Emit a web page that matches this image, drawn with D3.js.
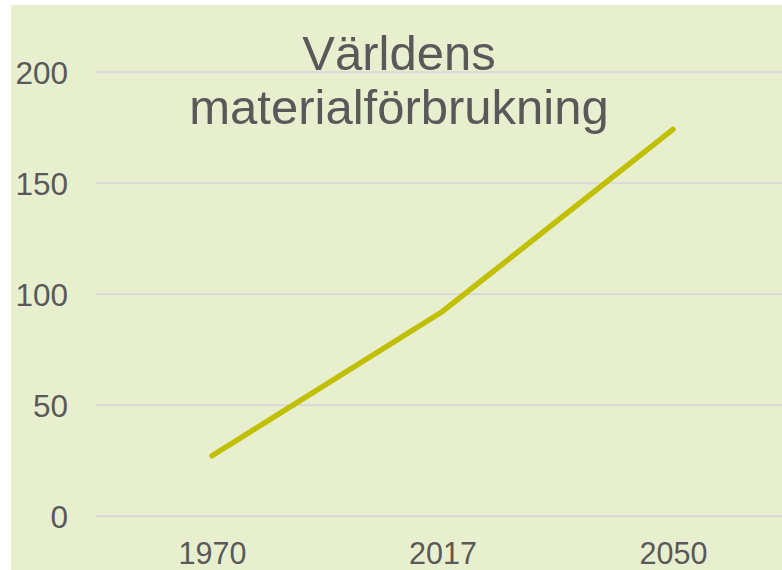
<!DOCTYPE html>
<html><head><meta charset="utf-8">
<script src="https://cdn.jsdelivr.net/npm/d3@7"></script>
<style>body{margin:0;background:#fff;}svg{display:block;}</style>
</head><body>
<svg id="c" width="782" height="570"></svg>
<script>
const years = ["1970", "2017", "2050"];
const values = [27, 92, 174];
const yTicks = [0, 50, 100, 150, 200];
const titleLines = ["Världens", "materialförbrukning"];

const svg = d3.select("#c");
const W = 782, H = 570;
svg.append("rect").attr("x", 11).attr("y", 5).attr("width", W - 11).attr("height", H - 5).attr("fill", "#e8efcf");

const x = d3.scalePoint().domain(years).range([212, 673]);
const y = d3.scaleLinear().domain([0, 200]).range([515.7, 71.7]);

const font = "'Liberation Sans', Arial, sans-serif";
const gy = svg.append("g").attr("transform", "translate(96,0)")
  .call(d3.axisLeft(y).tickValues(yTicks).tickSize(-(W - 96)).tickPadding(28));
gy.select(".domain").remove();
gy.selectAll(".tick line").attr("stroke", "#d9d9d9").attr("stroke-width", 2);
gy.selectAll(".tick text").attr("fill", "#595959").style("font", "31.5px " + font).attr("dy", "0.36em");

const gx = svg.append("g").attr("transform", "translate(0,515.7)")
  .call(d3.axisBottom(x).tickSize(0).tickPadding(27));
gx.select(".domain").remove();
gx.selectAll(".tick text").attr("fill", "#595959").style("font", "30.5px " + font);

svg.append("path").datum(values)
  .attr("fill", "none").attr("stroke", "#c0c000").attr("stroke-width", 5.5)
  .attr("stroke-linecap", "round").attr("stroke-linejoin", "round")
  .attr("d", d3.line().x((d, i) => x(years[i])).y(d => y(d)));

svg.append("text").attr("x", 399).attr("y", 70).attr("text-anchor", "middle")
  .attr("fill", "#595959").style("font", "49px " + font)
  .selectAll("tspan").data(titleLines).join("tspan")
  .attr("x", 399).attr("dy", (d, i) => i === 0 ? 0 : 54).text(d => d);
</script>
</body></html>
